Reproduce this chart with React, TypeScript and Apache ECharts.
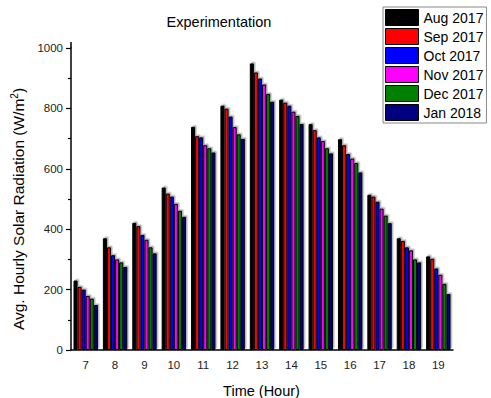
import React, { useEffect, useRef } from "react";
import * as echarts from "echarts";

const hours = ["7", "8", "9", "10", "11", "12", "13", "14", "15", "16", "17", "18", "19"];
const seriesNames = ["Aug 2017", "Sep 2017", "Oct 2017", "Nov 2017", "Dec 2017", "Jan 2018"];
const colors = ["#000000", "#ff0000", "#0000ff", "#ff00ff", "#008000", "#000080"];

const aug2017 = [230, 370, 421, 538, 739, 809, 949, 829, 748, 698, 514, 370, 310];
const sep2017 = [209, 340, 410, 518, 708, 799, 919, 819, 728, 678, 508, 361, 302];
const oct2017 = [200, 314, 381, 508, 704, 773, 899, 809, 704, 649, 491, 340, 270];
const nov2017 = [179, 300, 365, 484, 678, 738, 879, 789, 692, 634, 468, 330, 249];
const dec2017 = [170, 290, 340, 461, 668, 714, 848, 775, 668, 619, 445, 300, 219];
const jan2018 = [149, 275, 320, 441, 654, 699, 822, 748, 651, 588, 420, 290, 185];

const allValues = [aug2017, sep2017, oct2017, nov2017, dec2017, jan2018];

const FONT = "'Liberation Sans', Arial, sans-serif";

export default function App() {
  const ref = useRef<HTMLDivElement>(null);
  useEffect(() => {
    if (!ref.current) return;
    const chart = echarts.init(ref.current, null, { renderer: "svg" });
    chart.setOption({
      animation: false,
      backgroundColor: "#ffffff",
      textStyle: { fontFamily: FONT },
      graphic: [
        {
          type: "text",
          x: 219,
          y: 22,
          style: {
            text: "Experimentation",
            fontFamily: FONT,
            fontSize: 14.5,
            fill: "#000",
            textAlign: "center",
            textVerticalAlign: "middle",
          },
        },
        {
          type: "text",
          x: 18,
          y: 209,
          rotation: Math.PI / 2,
          style: {
            text: "Avg. Hourly Solar Radiation (W/m{sup|2})",
            fontFamily: FONT,
            fontSize: 15.5,
            fill: "#000",
            textAlign: "center",
            textVerticalAlign: "middle",
            rich: {
              sup: { fontFamily: FONT, fontSize: 10, fill: "#000", padding: [0, 0, 8, 0] },
            },
          },
        },
        {
          type: "text",
          x: 261.5,
          y: 391,
          style: {
            text: "Time (Hour)",
            fontFamily: FONT,
            fontSize: 14.5,
            fill: "#000",
            textAlign: "center",
            textVerticalAlign: "middle",
          },
        },
        {
          type: "line",
          shape: { x1: 71, y1: 42, x2: 71, y2: 48 },
          style: { stroke: "#000", lineWidth: 1.5 },
        },
      ],
      legend: {
        data: seriesNames,
        orient: "vertical",
        left: 383,
        top: 7,
        itemWidth: 33,
        itemHeight: 16,
        itemGap: 2,
        padding: [2, 3, 2, 2],
        borderColor: "#888",
        borderWidth: 1,
        icon: "rect",
        textStyle: { fontFamily: FONT, fontSize: 14, color: "#000", lineHeight: 16 },
        itemStyle: { borderColor: "#000", borderWidth: 1, shadowBlur: 0, shadowOffsetX: 0, shadowOffsetY: 0, shadowColor: "transparent" },
      },
      grid: { left: 71, right: 38, top: 48, bottom: 48 },
      xAxis: [
        {
          type: "category",
          data: hours,
          axisLine: { lineStyle: { color: "#000", width: 1.5 } },
          axisTick: { alignWithLabel: true, length: 5, lineStyle: { color: "#000", width: 1.2 } },
          axisLabel: { fontFamily: FONT, fontSize: 11.5, color: "#222", margin: 9 },
          splitLine: { show: false },
        },
        {
          type: "category",
          data: hours,
          position: "bottom",
          axisLine: { show: false },
          axisTick: { length: 3, lineStyle: { color: "#000", width: 1.2 } },
          axisLabel: { show: false },
          splitLine: { show: false },
        },
      ],
      yAxis: {
        type: "value",
        min: 0,
        max: 1000,
        interval: 200,
        axisLine: { show: true, lineStyle: { color: "#000", width: 1.5 } },
        axisTick: { show: true, length: 5, lineStyle: { color: "#000", width: 1.2 } },
        minorTick: { show: true, splitNumber: 2, length: 3, lineStyle: { color: "#000", width: 1.2 } },
        axisLabel: { fontFamily: FONT, fontSize: 11.5, color: "#222", margin: 8, formatter: (v: number) => String(v) },
        splitLine: { show: false },
        minorSplitLine: { show: false },
      },
      series: seriesNames.map((name, i) => ({
        name,
        type: "bar",
        xAxisIndex: 0,
        data: allValues[i],
        barGap: "0%",
        barCategoryGap: "17%",
        itemStyle: {
          color: colors[i],
          borderColor: "#000",
          borderWidth: 1,
          shadowColor: "rgba(0,0,0,0.3)",
          shadowBlur: 0,
          shadowOffsetX: 1.5,
          shadowOffsetY: -1.5,
        },
      })),
    });
    return () => chart.dispose();
  }, []);
  return <div ref={ref} style={{ position: "fixed", left: 0, top: 0, width: 491, height: 398 }} />;
}
